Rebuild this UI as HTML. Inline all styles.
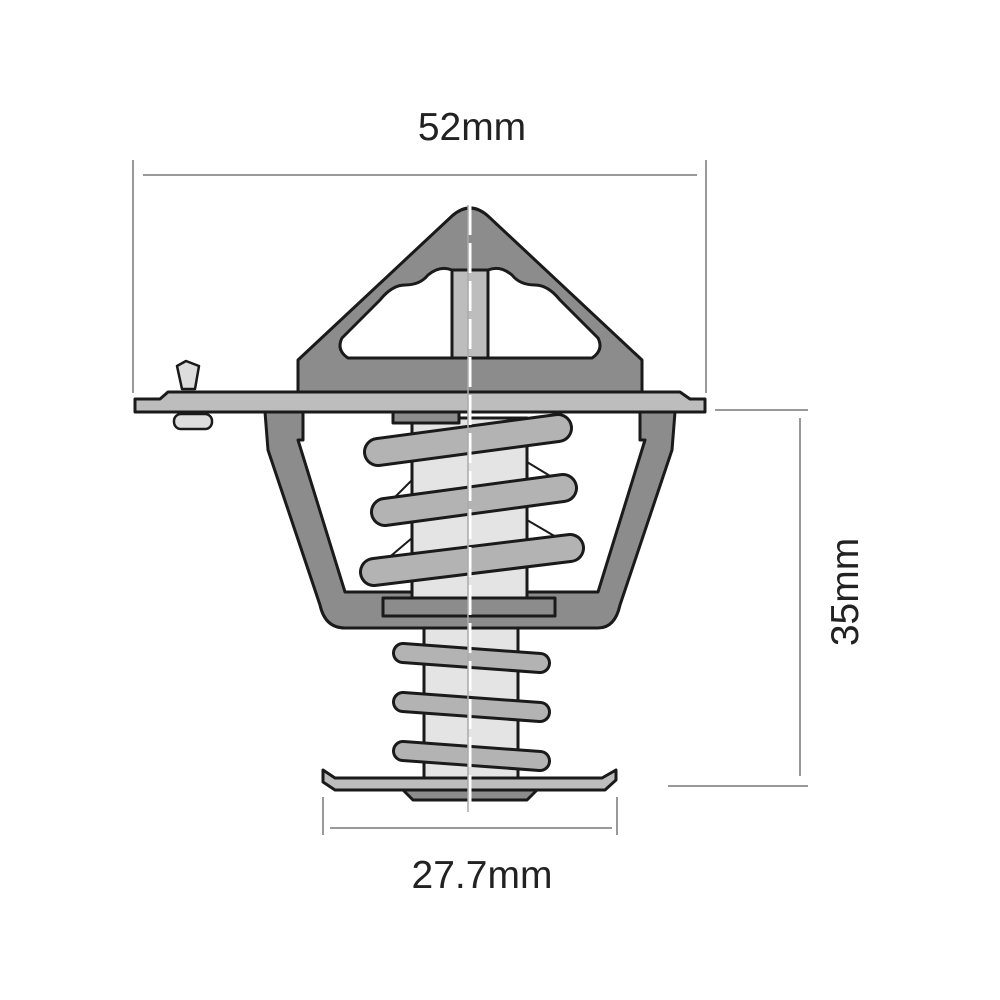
<!DOCTYPE html>
<html><head><meta charset="utf-8"><style>
html,body{margin:0;padding:0;background:#fff;width:1000px;height:1000px;overflow:hidden}
svg{display:block}
text{font-family:"Liberation Sans",sans-serif;fill:#222}
</style></head><body>
<svg width="1000" height="1000" viewBox="0 0 1000 1000" xmlns="http://www.w3.org/2000/svg">
<g stroke="#999" stroke-width="2" fill="none">
<line x1="133" y1="160" x2="133" y2="393"/>
<line x1="706" y1="160" x2="706" y2="393"/>
<line x1="143" y1="175" x2="697" y2="175"/>
<line x1="715" y1="410" x2="808" y2="410"/>
<line x1="668" y1="786" x2="808" y2="786"/>
<line x1="800" y1="418" x2="800" y2="776"/>
<line x1="323" y1="797" x2="323" y2="835"/>
<line x1="617" y1="797" x2="617" y2="835"/>
<line x1="330" y1="828" x2="612" y2="828"/>
</g>
<text x="472" y="140" font-size="39" text-anchor="middle">52mm</text>
<text x="482" y="888" font-size="39" text-anchor="middle">27.7mm</text>
<text transform="translate(858,592) rotate(-90)" font-size="39" text-anchor="middle">35mm</text>

<g stroke="#1a1a1a" stroke-width="3" stroke-linejoin="round">
<path d="M298,392 L298,360 L452,216 Q470,200 488,216 L642,360 L642,392 Z" fill="#8c8c8c"/>
<path d="M348,358 Q336,350 342,338 L380,300 Q392,285 405,285 Q420,285 428,275 Q440,265 452,270 L488,270 Q500,265 512,275 Q520,285 535,285 Q548,285 560,300 L598,338 Q604,350 592,358 Z" fill="#fff"/>
<rect x="452" y="270" width="36" height="88" fill="#bdbdbd"/>
<rect x="424" y="626" width="94" height="156" fill="#e4e4e4"/>
<path d="M265,412 L268,450 L320,605 Q325,628 345,628 L598,628 Q615,628 620,605 L672,450 L675,412 L640,412 L640,440 L645,440 L598,592 L345,592 L298,440 L303,440 L303,412 Z" fill="#8c8c8c"/>
<rect x="412" y="418" width="115" height="180" fill="#e4e4e4"/>
<rect x="383" y="598" width="172" height="18" fill="#8c8c8c"/>
<rect x="393" y="410" width="66" height="13" fill="#8c8c8c"/>
<path d="M527,462 L570,488 M412,480 L380,512 M527,520 L575,548 M412,538 L372,572" fill="none" stroke-width="2"/>
</g>
<g stroke-linecap="round" fill="none">
<path d="M378,452 L558,428 M385,512 L563,488 M374,572 L570,548" stroke="#1a1a1a" stroke-width="30"/>
<path d="M378,452 L558,428 M385,512 L563,488 M374,572 L570,548" stroke="#b3b3b3" stroke-width="24"/>
<path d="M403,653 L540,663 M403,702 L540,712 M403,751 L540,761" stroke="#1a1a1a" stroke-width="22"/>
<path d="M403,653 L540,663 M403,702 L540,712 M403,751 L540,761" stroke="#b3b3b3" stroke-width="16"/>
</g>
<g stroke="#1a1a1a" stroke-width="3" stroke-linejoin="round">
<path d="M135,399 L160,399 L168,392 L680,392 L690,399 L705,399 L705,412 L135,412 Z" fill="#bdbdbd"/>
<path d="M177,366 L186,361 L199,366 L195,389 L182,389 Z" fill="#ddd" stroke-width="2.5"/>
<rect x="174" y="414" width="38" height="15" rx="7" fill="#ddd" stroke-width="2.5"/>
<path d="M323,770 L335,778 L602,778 L616,770 L616,780 L605,790 L335,790 L323,782 Z" fill="#bdbdbd"/>
<path d="M403,790 L537,790 L527,800 L413,800 Z" fill="#8c8c8c"/>
</g>
<line x1="470" y1="205" x2="470" y2="812" stroke="#fff" stroke-width="3" stroke-dasharray="30,8"/>
<line x1="468" y1="205" x2="468" y2="812" stroke="#aaa" stroke-width="1.5"/>
</svg>
</body></html>
